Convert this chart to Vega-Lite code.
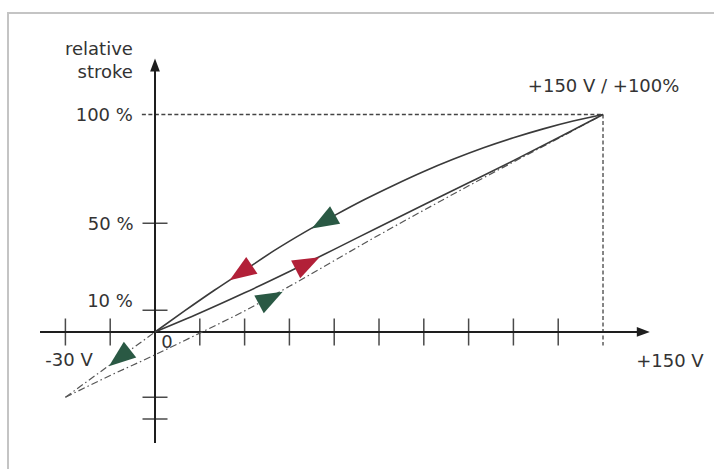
{
  "$schema": "https://vega.github.io/schema/vega-lite/v6.json",
  "autosize": {"type": "none"},
  "padding": {"left": 8, "top": 13, "right": 0, "bottom": 0},
  "width": 708,
  "height": 458,
  "background": "white",
  "config": {"view": {"stroke": "#c4c4c4", "strokeWidth": 2}},
  "datasets": {
    "upper": [
      {"v": 0, "p": 0}, {"v": 10, "p": 9.8}, {"v": 20, "p": 19.3}, {"v": 30, "p": 28.4},
      {"v": 40, "p": 37.5}, {"v": 50, "p": 45.8}, {"v": 60, "p": 53.5}, {"v": 70, "p": 60.8},
      {"v": 80, "p": 67.5}, {"v": 90, "p": 73.8}, {"v": 100, "p": 79.5}, {"v": 110, "p": 84.7},
      {"v": 120, "p": 89.3}, {"v": 130, "p": 93.4}, {"v": 140, "p": 97}, {"v": 150, "p": 100}
    ],
    "middle": [
      {"v": 0, "p": 0}, {"v": 15, "p": 8.7}, {"v": 30, "p": 18}, {"v": 45, "p": 27.8},
      {"v": 60, "p": 38}, {"v": 75, "p": 48.3}, {"v": 90, "p": 58.5}, {"v": 105, "p": 68.6},
      {"v": 120, "p": 78.8}, {"v": 135, "p": 89.3}, {"v": 150, "p": 100}
    ],
    "lowdash": [
      {"v": -30, "p": -30}, {"v": -15, "p": -20}, {"v": 0, "p": -10.5}, {"v": 15, "p": -0.5},
      {"v": 30, "p": 9.7}, {"v": 45, "p": 21}, {"v": 60, "p": 32.8}, {"v": 75, "p": 44.6},
      {"v": 90, "p": 56}, {"v": 105, "p": 67.2}, {"v": 120, "p": 78.2}, {"v": 135, "p": 89},
      {"v": 150, "p": 100}
    ],
    "leftdash": [{"v": 0, "p": 0}, {"v": -30, "p": -30}],
    "arrows": [
      {"v": 56.4, "p": 50.7, "heading": 150, "cycle": "bipolar"},
      {"v": 28.7, "p": 27.2, "heading": 146, "cycle": "unipolar"},
      {"v": 51.1, "p": 31.6, "heading": -27, "cycle": "unipolar"},
      {"v": 38.8, "p": 15.6, "heading": -28, "cycle": "bipolar"},
      {"v": -11.9, "p": -11.9, "heading": 142, "cycle": "bipolar"}
    ],
    "xticks": [
      {"v": -30, "p": 0}, {"v": -15, "p": 0}, {"v": 15, "p": 0}, {"v": 30, "p": 0},
      {"v": 45, "p": 0}, {"v": 60, "p": 0}, {"v": 75, "p": 0}, {"v": 90, "p": 0},
      {"v": 105, "p": 0}, {"v": 120, "p": 0}, {"v": 135, "p": 0}
    ],
    "yticks": [{"v": 0, "p": 10}, {"v": 0, "p": 50}, {"v": 0, "p": -30}, {"v": 0, "p": -40}],
    "guides": [
      {"v": -4.4, "p": 100, "v2": 150, "p2": 100},
      {"v": 150, "p": 100, "v2": 150, "p2": -6.2}
    ],
    "axes": [
      {"v": -38.5, "p": 0, "v2": 162, "p2": 0},
      {"v": 0, "p": -51, "v2": 0, "p2": 120}
    ],
    "axisheads": [
      {"v": 163.5, "p": 0, "heading": 0},
      {"v": 0, "p": 122.8, "heading": -90}
    ],
    "labelsRight": [
      {"text": "relative", "v": -7.4, "p": 129.7},
      {"text": "stroke", "v": -7.4, "p": 119.1},
      {"text": "100 %", "v": -7.4, "p": 99.3},
      {"text": "50 %", "v": -7.2, "p": 49.2},
      {"text": "10 %", "v": -7.4, "p": 13.8}
    ],
    "labelsCenter": [
      {"text": "-30 V", "v": -28.8, "p": -13.3},
      {"text": "0", "v": 4.0, "p": -5.1},
      {"text": "+150 V", "v": 172.4, "p": -13.8},
      {"text": "+150 V / +100%", "v": 150.2, "p": 112.6}
    ]
  },
  "encoding": {
    "x": {"field": "v", "type": "quantitative", "scale": {"domain": [-49.22, 187.83], "nice": false, "zero": false}, "axis": null},
    "y": {"field": "p", "type": "quantitative", "scale": {"domain": [-63.91, 146.67], "nice": false, "zero": false}, "axis": null}
  },
  "layer": [
    {
      "data": {"name": "guides"},
      "mark": {"type": "rule", "color": "#444444", "strokeWidth": 1.3, "strokeDash": [4, 2.5]},
      "encoding": {"x2": {"field": "v2"}, "y2": {"field": "p2"}}
    },
    {
      "data": {"name": "xticks"},
      "mark": {"type": "tick", "orient": "vertical", "color": "#4a4a4a", "size": 27, "thickness": 1.5, "opacity": 1},
      "encoding": {}
    },
    {
      "data": {"name": "yticks"},
      "mark": {"type": "tick", "orient": "horizontal", "color": "#4a4a4a", "size": 25, "thickness": 1.5, "opacity": 1},
      "encoding": {}
    },
    {
      "data": {"name": "axes"},
      "mark": {"type": "rule", "color": "#1e1e1e", "strokeWidth": 2},
      "encoding": {"x2": {"field": "v2"}, "y2": {"field": "p2"}}
    },
    {
      "data": {"name": "axisheads"},
      "mark": {"type": "point", "filled": true, "opacity": 1, "color": "#1e1e1e", "shape": "M1,0L-1,-0.75L-1,0.75Z", "size": 169},
      "encoding": {"angle": {"field": "heading", "type": "quantitative", "scale": null}}
    },
    {
      "data": {"name": "leftdash"},
      "mark": {"type": "line", "color": "#555555", "strokeWidth": 1.2, "strokeDash": [7, 3, 1.5, 3]},
      "encoding": {}
    },
    {
      "data": {"name": "lowdash"},
      "mark": {"type": "line", "color": "#555555", "strokeWidth": 1.2, "strokeDash": [7, 3, 1.5, 3], "interpolate": "monotone"},
      "encoding": {}
    },
    {
      "data": {"name": "middle"},
      "mark": {"type": "line", "color": "#3a3a3a", "strokeWidth": 1.6, "interpolate": "monotone"},
      "encoding": {}
    },
    {
      "data": {"name": "upper"},
      "mark": {"type": "line", "color": "#3a3a3a", "strokeWidth": 1.6, "interpolate": "monotone"},
      "encoding": {}
    },
    {
      "data": {"name": "arrows"},
      "mark": {"type": "point", "filled": true, "opacity": 1, "shape": "M1,0L-1,-0.75L-1,0.75Z", "size": 720},
      "encoding": {
        "angle": {"field": "heading", "type": "quantitative", "scale": null},
        "color": {"field": "cycle", "type": "nominal", "scale": {"domain": ["bipolar", "unipolar"], "range": ["#2a5944", "#b22038"]}, "legend": null}
      }
    },
    {
      "data": {"name": "labelsRight"},
      "mark": {"type": "text", "align": "right", "baseline": "middle", "font": "DejaVu Sans", "fontSize": 18, "color": "#333333"},
      "encoding": {"text": {"field": "text"}}
    },
    {
      "data": {"name": "labelsCenter"},
      "mark": {"type": "text", "align": "center", "baseline": "middle", "font": "DejaVu Sans", "fontSize": 18, "color": "#333333"},
      "encoding": {"text": {"field": "text"}}
    }
  ]
}
